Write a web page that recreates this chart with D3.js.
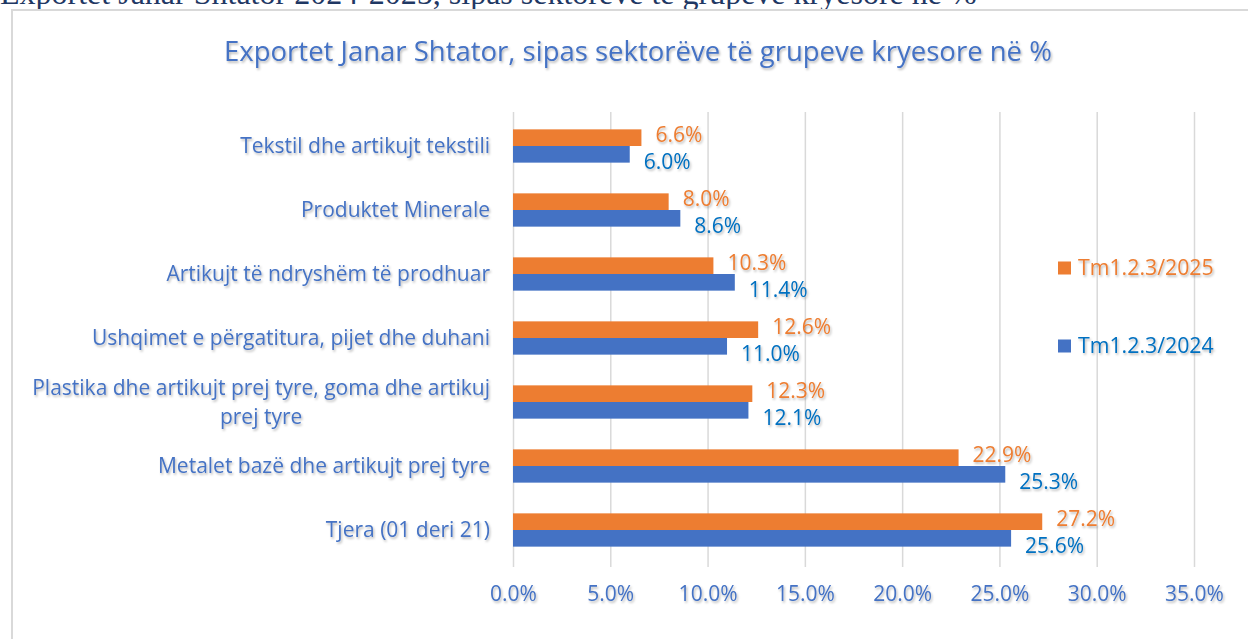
<!DOCTYPE html>
<html><head><meta charset="utf-8">
<script src="https://cdn.jsdelivr.net/npm/d3@7"></script>
<style>
html,body{margin:0;padding:0;background:#fff;overflow:hidden;}
svg{display:block;}
</style></head>
<body>
<svg id="chart" width="1248" height="639"></svg>
<script>
const categories = [
  ["Tekstil dhe artikujt tekstili"],
  ["Produktet Minerale"],
  ["Artikujt të ndryshëm të prodhuar"],
  ["Ushqimet e përgatitura, pijet dhe duhani"],
  ["Plastika dhe artikujt prej tyre, goma dhe artikuj", "prej tyre"],
  ["Metalet bazë dhe artikujt prej tyre"],
  ["Tjera (01 deri 21)"]
];
const seriesNames = ["Tm1.2.3/2025", "Tm1.2.3/2024"];
const values2025 = [6.6, 8.0, 10.3, 12.6, 12.3, 22.9, 27.2];
const values2024 = [6.0, 8.6, 11.4, 11.0, 12.1, 25.3, 25.6];
const tickValues = [0, 5, 10, 15, 20, 25, 30, 35];
const title = "Exportet Janar Shtator, sipas sektorëve të grupeve kryesore në %";
const pageHeading = "Exportet Janar Shtator 2024-2025, sipas sektorëve të grupeve kryesore në %";

const barColors = ["#ED7D31", "#4472C4"];
const labelColors = ["#ED7D31", "#0070C0"];
const textBlue = "#4472C4";
const font = "'Open Sans', 'Noto Sans', sans-serif";

const svg = d3.select("#chart");
const defs = svg.append("defs");
const f = defs.append("filter").attr("id","shadow").attr("x","-10%").attr("y","-30%").attr("width","120%").attr("height","160%");
f.append("feDropShadow").attr("dx",1.2).attr("dy",1.8).attr("stdDeviation",1.2).attr("flood-color","#000").attr("flood-opacity",0.28);

// clipped page heading above chart
svg.append("text").attr("x",0).attr("y",4)
  .attr("font-family","'Liberation Serif','Times New Roman',serif").attr("font-size",32)
  .attr("fill","#1F3864").text(pageHeading);

// frame
svg.append("path").attr("d","M12,640 V10 H1248").attr("fill","none").attr("stroke","#d9d9d9").attr("stroke-width",2);

// title
svg.append("text").attr("x",638).attr("y",61).attr("text-anchor","middle")
  .attr("font-family",font).attr("font-size",27.5).attr("fill",textBlue)
  .attr("filter","url(#shadow)").text(title);

const x = d3.scaleLinear().domain([0,35]).range([513,1194]);
const y = d3.scaleBand().domain(d3.range(categories.length)).range([114,562]).paddingInner(0.48).paddingOuter(0.24);
const ySub = d3.scaleBand().domain([0,1]).range([0,y.bandwidth()]);

// gridlines
const grid = svg.append("g").attr("transform","translate(0,567)")
  .call(d3.axisBottom(x).tickValues(tickValues).tickSize(-455).tickFormat(""));
grid.select(".domain").remove();
grid.selectAll("line").attr("stroke","#d9d9d9").attr("stroke-width",1.5);

// x tick labels
const xa = svg.append("g").attr("transform","translate(0,567)")
  .call(d3.axisBottom(x).tickValues(tickValues).tickSize(0).tickPadding(19).tickFormat(d=>d3.format(".1f")(d)+"%"));
xa.select(".domain").remove();
xa.selectAll("text").attr("font-family",font).attr("font-size",21).attr("fill",textBlue).attr("filter","url(#shadow)");

// bars
const series = [values2025, values2024];
series.forEach((vals, s) => {
  svg.append("g").selectAll("rect").data(vals).join("rect")
    .attr("x", x(0))
    .attr("y", (d,i) => y(i) + ySub(s))
    .attr("width", d => x(d) - x(0))
    .attr("height", ySub.bandwidth())
    .attr("fill", barColors[s]);
  svg.append("g").selectAll("text").data(vals).join("text")
    .attr("x", d => x(d) + 14)
    .attr("y", (d,i) => y(i) + ySub(s) + ySub.bandwidth()/2 + (s===0 ? -3 : 7))
    .attr("dy","0.35em")
    .attr("font-family",font).attr("font-size",21).attr("fill",labelColors[s])
    .attr("filter","url(#shadow)")
    .text(d => d3.format(".1f")(d)+"%");
});

// category labels
const cat = svg.append("g");
categories.forEach((lines, i) => {
  const cy = y(i) + y.bandwidth()/2;
  const t = cat.append("text").attr("text-anchor","end")
    .attr("font-family",font).attr("font-size",21).attr("fill",textBlue)
    .attr("filter","url(#shadow)");
  const n = lines.length;
  lines.forEach((ln, k) => {
    t.append("tspan").attr("x", 490).attr("y", cy + (k - (n-1)/2)*29)
      .attr("dy","0.35em").text(ln);
  });
  if (n>1) {
    const spans = t.selectAll("tspan").nodes();
    const w0 = spans[0].getComputedTextLength();
    d3.select(spans[1]).attr("text-anchor","middle").attr("x", 490 - w0/2);
  }
});

// legend
const lg = svg.append("g");
seriesNames.forEach((name, s) => {
  const ly = 268 + s*78;
  lg.append("rect").attr("x",1058).attr("y",ly-6.5).attr("width",13).attr("height",13).attr("fill",barColors[s]);
  lg.append("text").attr("x",1078).attr("y",ly).attr("dy","0.35em")
    .attr("font-family",font).attr("font-size",21.3).attr("fill",labelColors[s])
    .attr("filter","url(#shadow)").text(name);
});
</script>
</body></html>
